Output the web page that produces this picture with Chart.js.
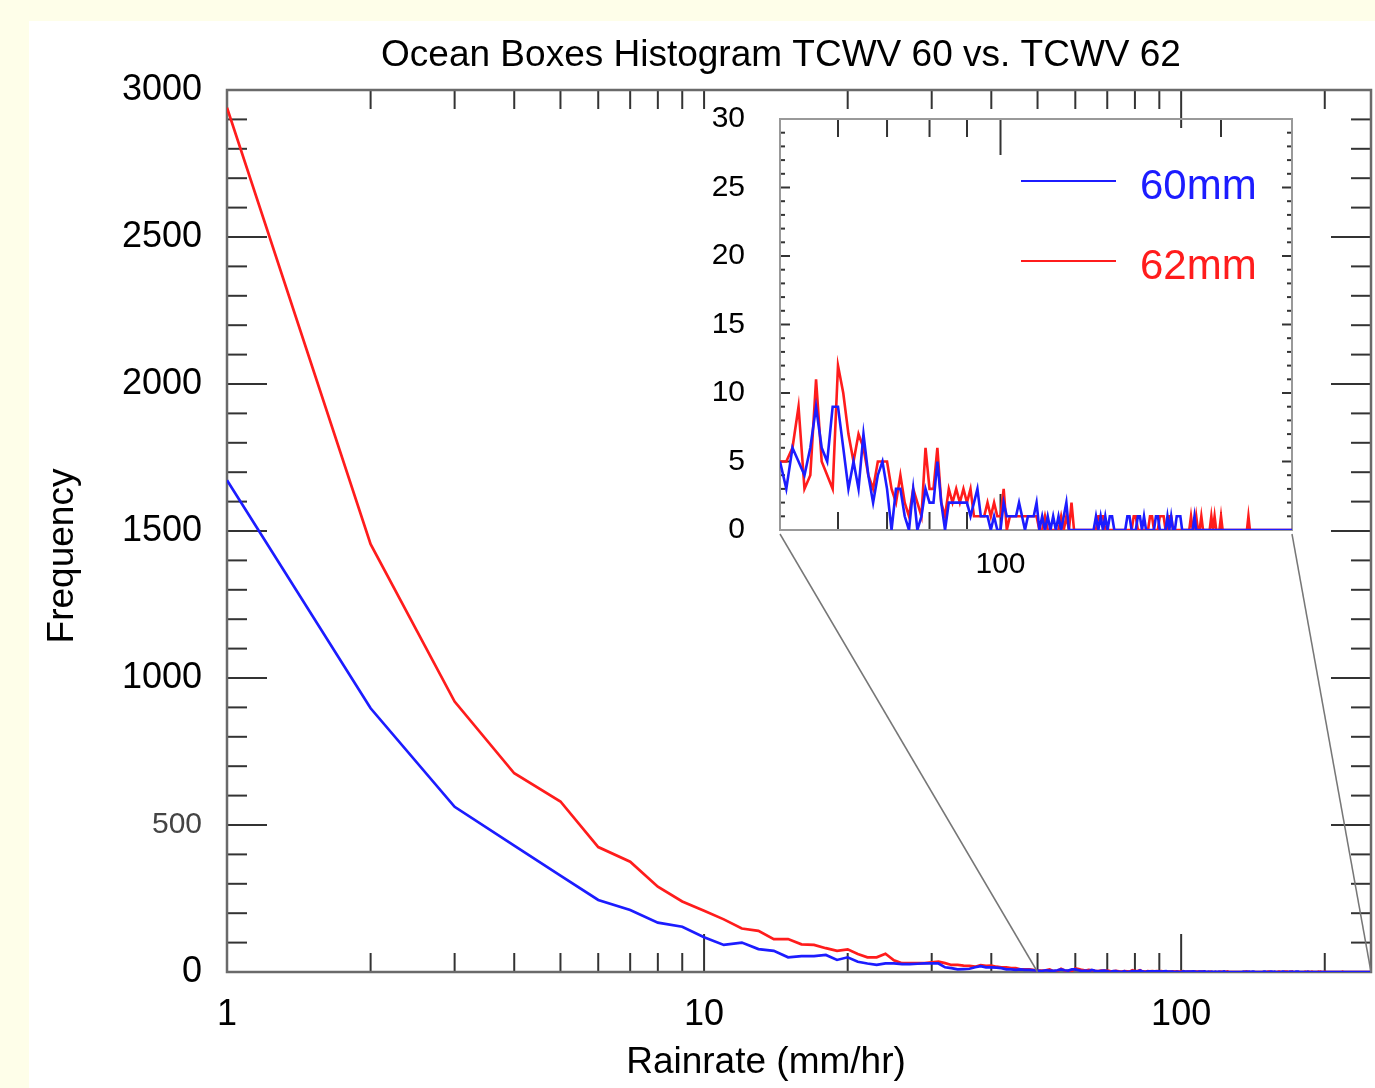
<!DOCTYPE html>
<html>
<head>
<meta charset="utf-8">
<title>Ocean Boxes Histogram TCWV 60 vs. TCWV 62</title>
<script src="https://cdn.jsdelivr.net/npm/chart.js@4.4.1/dist/chart.umd.min.js"></script>
<style>
  html, body { margin: 0; padding: 0; background: #fefee9; overflow: hidden; }
  #card { position: absolute; left: 29px; top: 21px; width: 1346px; height: 1067px; background: #fff; }
  canvas { position: absolute; left: 0; top: 0; }
  #insetChart { pointer-events: none; }
</style>
</head>
<body>
<div id="card"></div>
<canvas id="mainChart" width="1375" height="1088"></canvas>
<canvas id="insetChart" width="1375" height="1088"></canvas>
<script>
// rainrate bins, 1 mm/hr wide
const binStart = 1;
const binCount = 250;
const rainrate = Array.from({ length: binCount }, (_, i) => binStart + i);

const seriesNames = ["60mm", "62mm"];
const seriesColors = ["#1c1cff", "#ff1c1c"];

const chartTitle = "Ocean Boxes Histogram TCWV 60 vs. TCWV 62";
const xTitle = "Rainrate (mm/hr)";
const yTitle = "Frequency";

// 1..49 mm/hr
const freq60Low = [
  1673, 897, 562, 430, 328, 245, 211, 168, 154, 118,
  92, 100, 78, 72, 50, 54, 54, 58, 41, 50,
  35, 29, 24, 29, 29, 27, 27, 28, 29, 29,
  29, 16, 13, 9, 10, 11, 16, 20, 16, 16,
  15, 13, 9, 9, 7, 9, 7, 7, 6
];
const freq62Low = [
  2940, 1455, 920, 676, 580, 425, 375, 290, 240, 208,
  179, 148, 140, 112, 112, 94, 92, 81, 72, 77,
  61, 50, 50, 62, 40, 30, 30, 30, 30, 33,
  35, 30, 24, 24, 22, 21, 18, 23, 21, 22,
  18, 16, 16, 13, 13, 9, 9, 9, 7
];

// 50..250 mm/hr
const freq60High = [
  5, 3, 6, 5, 4, 6, 9, 6, 5, 9,
  9, 6, 3, 5, 3, 7, 4, 2, 4, 5,
  3, 0, 3, 3, 1, 0, 3, 0, 1, 3,
  2, 2, 5, 2, 0, 2, 2, 2, 2, 2,
  2, 1, 2, 3, 1, 1, 1, 0, 1, 0,
  0, 2, 1, 1, 1, 1, 2, 1, 0, 1,
  1, 1, 2, 0, 1, 0, 1, 0, 1, 0,
  1, 0, 1, 2, 0, 0, 0, 0, 0, 0,
  0, 0, 0, 0, 0, 1, 0, 1, 0, 1,
  0, 1, 1, 0, 0, 0, 0, 0, 0, 1,
  1, 0, 0, 0, 1, 1, 0, 1, 0, 0,
  0, 0, 0, 1, 1, 0, 0, 0, 0, 1,
  0, 1, 0, 0, 1, 1, 1, 0, 0, 0,
  0, 0, 0, 0, 1, 0, 0, 0, 0, 0,
  0, 0, 0, 0, 0, 0, 0, 0, 0, 0,
  0, 0, 0, 0, 0, 0, 0, 0, 0, 0,
  0, 0, 0, 0, 0, 0, 0, 0, 0, 0,
  0, 0, 0, 0, 0, 0, 0, 0, 0, 0,
  0, 0, 0, 0, 0, 0, 0, 0, 0, 0,
  0, 0, 0, 0, 0, 0, 0, 0, 0, 0,
  0
];
const freq62High = [
  5, 5, 6, 9, 3, 4, 11, 5, 4, 3,
  12, 10, 7, 5, 7, 6, 4, 3, 5, 5,
  5, 3, 2, 4, 2, 1, 3, 2, 1, 6,
  3, 3, 6, 2, 1, 3, 2, 3, 2, 3,
  2, 3, 1, 1, 1, 1, 2, 1, 2, 1,
  1, 3, 0, 1, 1, 1, 1, 1, 1, 1,
  1, 1, 1, 0, 0, 1, 0, 0, 0, 0,
  0, 1, 0, 1, 0, 2, 0, 0, 0, 0,
  0, 0, 0, 0, 0, 0, 1, 1, 1, 0,
  0, 0, 0, 0, 0, 0, 0, 0, 0, 0,
  0, 0, 1, 1, 0, 0, 0, 0, 0, 0,
  1, 1, 0, 0, 0, 1, 1, 1, 0, 0,
  1, 1, 0, 0, 0, 0, 0, 0, 0, 0,
  0, 0, 1, 0, 0, 1, 0, 0, 1, 0,
  0, 0, 0, 0, 1, 0, 1, 0, 0, 0,
  1, 0, 0, 0, 0, 0, 0, 0, 0, 0,
  0, 0, 0, 0, 0, 0, 0, 0, 1, 0,
  0, 0, 0, 0, 0, 0, 0, 0, 0, 0,
  0, 0, 0, 0, 0, 0, 0, 0, 0, 0,
  0, 0, 0, 0, 0, 0, 0, 0, 0, 0,
  0
];

const mainXTicks = [1, 2, 3, 4, 5, 6, 7, 8, 9, 10, 20, 30, 40, 50, 60, 70, 80, 90, 100, 200];
const mainXLabels = [1, 10, 100];
const insetRange = [50, 250];
const insetXTicks = [60, 70, 80, 90, 100, 200];
const insetXLabels = [100];

const freq60 = freq60Low.concat(freq60High);
const freq62 = freq62Low.concat(freq62High);

const FONT = "'Liberation Sans', Arial, sans-serif";
Chart.defaults.font.family = FONT;
Chart.defaults.color = "#000";

function points(values, offset) {
  return values.map((v, i) => ({ x: rainrate[offset + i], y: v }));
}

function noPadding(axis) {
  axis.paddingLeft = 0;
  axis.paddingRight = 0;
  axis.paddingTop = 0;
  axis.paddingBottom = 0;
}

function line(ctx, x1, y1, x2, y2) {
  ctx.beginPath();
  ctx.moveTo(x1, y1);
  ctx.lineTo(x2, y2);
  ctx.stroke();
}

// IDL style box: ticks point inward on all four sides
function framePlugin(o) {
  return {
    id: "frame",
    beforeDatasetsDraw(chart) {
      const { ctx, chartArea: a, scales } = chart;
      ctx.save();
      ctx.strokeStyle = o.tickColor;
      ctx.lineWidth = o.tickWidth;
      scales.x.ticks.forEach(t => {
        const px = scales.x.getPixelForValue(t.value);
        const lenBottom = o.xMajor.includes(t.value) ? o.xLong : o.xShort;
        const lenTop = o.xMajorTop.includes(t.value) ? o.xLong : o.xShort;
        line(ctx, px, a.bottom, px, a.bottom - lenBottom);
        line(ctx, px, a.top, px, a.top + lenTop);
      });
      scales.y.ticks.forEach(t => {
        const py = scales.y.getPixelForValue(t.value);
        const len = t.value % o.yMajorStep === 0 ? o.yLong : o.yShort;
        line(ctx, a.left, py, a.left + len, py);
        line(ctx, a.right, py, a.right - len, py);
      });
      ctx.strokeStyle = o.frameColor;
      ctx.lineWidth = o.frameWidth;
      ctx.strokeRect(a.left, a.top, a.right - a.left, a.bottom - a.top);
      ctx.restore();
    }
  };
}

// titles placed where the original figure has them (not centred on the plot box)
const titlesPlugin = {
  id: "titles",
  afterDraw(chart) {
    const { ctx, chartArea: a } = chart;
    ctx.save();
    ctx.fillStyle = "#000";
    ctx.font = "37px " + FONT;
    ctx.textAlign = "center";
    ctx.textBaseline = "middle";
    ctx.fillText(chartTitle, a.left + 554, a.top - 34);
    ctx.fillText(xTitle, a.left + 539, a.bottom + 91);
    ctx.translate(a.left - 164, a.top + 466);
    ctx.rotate(-Math.PI / 2);
    ctx.fillText(yTitle, 0, 0);
    ctx.restore();
  }
};

function lineSet(i, data, width) {
  return {
    label: seriesNames[i],
    data: data,
    borderColor: seriesColors[i],
    borderWidth: width,
    pointRadius: 0,
    tension: 0,
    fill: false
  };
}

const mainChart = new Chart(document.getElementById("mainChart"), {
  type: "line",
  data: {
    datasets: [
      lineSet(0, points(freq60, 0), 2.7),
      lineSet(1, points(freq62, 0), 2.7)
    ]
  },
  options: {
    responsive: false,
    animation: false,
    events: [],
    layout: { padding: { left: 37, right: 4, top: 90, bottom: 0 } },
    plugins: {
      legend: { display: false },
      tooltip: { enabled: false },
      title: { display: false }
    },
    scales: {
      x: {
        type: "logarithmic",
        min: 1,
        max: 250,
        grid: { display: false, drawTicks: false },
        border: { display: false },
        afterBuildTicks: axis => { axis.ticks = mainXTicks.map(v => ({ value: v })); },
        afterFit: axis => { axis.height = 116; noPadding(axis); },
        ticks: {
          autoSkip: false,
          maxRotation: 0,
          padding: 21,
          font: { size: 36 },
          callback: v => mainXLabels.includes(v) ? String(v) : ""
        }
      },
      y: {
        min: 0,
        max: 3000,
        grid: { display: false, drawTicks: false },
        border: { display: false },
        afterFit: axis => { axis.width = 190; noPadding(axis); },
        ticks: {
          stepSize: 100,
          autoSkip: false,
          padding: 25,
          font: ctx => ({ size: ctx.tick && ctx.tick.value === 500 ? 30 : 36 }),
          color: ctx => ctx.tick && ctx.tick.value === 500 ? "#444" : "#000",
          callback: v => v % 500 === 0 ? String(v) : ""
        }
      }
    }
  },
  plugins: [framePlugin({
    tickColor: "#333", tickWidth: 2, frameColor: "#6a6a6a", frameWidth: 2.5,
    xMajor: mainXLabels, xMajorTop: [100], xLong: 38, xShort: 19,
    yMajorStep: 500, yLong: 40, yShort: 20
  }), titlesPlugin]
});

const insetExtras = {
  id: "insetExtras",
  afterDraw(chart) {
    const { ctx, chartArea: a } = chart;
    ctx.save();
    // legend
    chart.data.datasets.forEach((ds, i) => {
      const y = a.top + 62 + i * 80;
      ctx.strokeStyle = ds.borderColor;
      ctx.lineWidth = 2;
      line(ctx, a.left + 241, y, a.left + 336, y);
      ctx.fillStyle = ds.borderColor;
      ctx.font = "42px " + FONT;
      ctx.textBaseline = "middle";
      ctx.fillText(ds.label, a.left + 360, y + 6);
    });
    // zoom connectors to the main panel
    const mx = mainChart.scales.x;
    const my = mainChart.scales.y;
    ctx.strokeStyle = "#777";
    ctx.lineWidth = 1.5;
    line(ctx, a.left, a.bottom + 4, mx.getPixelForValue(insetRange[0]), my.getPixelForValue(0));
    line(ctx, a.right, a.bottom + 4, mx.getPixelForValue(insetRange[1]), my.getPixelForValue(0));
    ctx.restore();
  }
};

const insetChart = new Chart(document.getElementById("insetChart"), {
  type: "line",
  data: {
    datasets: [
      lineSet(0, points(freq60High, freq60Low.length), 2.6),
      lineSet(1, points(freq62High, freq62Low.length), 2.6)
    ]
  },
  options: {
    responsive: false,
    animation: false,
    events: [],
    layout: { padding: { left: 640, right: 83, top: 119, bottom: 508 } },
    plugins: {
      legend: { display: false },
      tooltip: { enabled: false }
    },
    scales: {
      x: {
        type: "logarithmic",
        min: insetRange[0],
        max: insetRange[1],
        grid: { display: false, drawTicks: false },
        border: { display: false },
        afterBuildTicks: axis => { axis.ticks = insetXTicks.map(v => ({ value: v })); },
        afterFit: axis => { axis.height = 50; noPadding(axis); },
        ticks: {
          autoSkip: false,
          maxRotation: 0,
          padding: 17,
          font: { size: 30 },
          callback: v => insetXLabels.includes(v) ? String(v) : ""
        }
      },
      y: {
        min: 0,
        max: 30,
        grid: { display: false, drawTicks: false },
        border: { display: false },
        afterFit: axis => { axis.width = 140; noPadding(axis); },
        ticks: {
          stepSize: 1,
          autoSkip: false,
          padding: 35,
          font: { size: 30 },
          callback: v => v % 5 === 0 ? String(v) : ""
        }
      }
    }
  },
  plugins: [framePlugin({
    tickColor: "#333", tickWidth: 2, frameColor: "#999", frameWidth: 2,
    xMajor: insetXLabels, xMajorTop: insetXLabels, xLong: 36, xShort: 18,
    yMajorStep: 5, yLong: 10, yShort: 5
  }), insetExtras]
});
</script>
</body>
</html>
